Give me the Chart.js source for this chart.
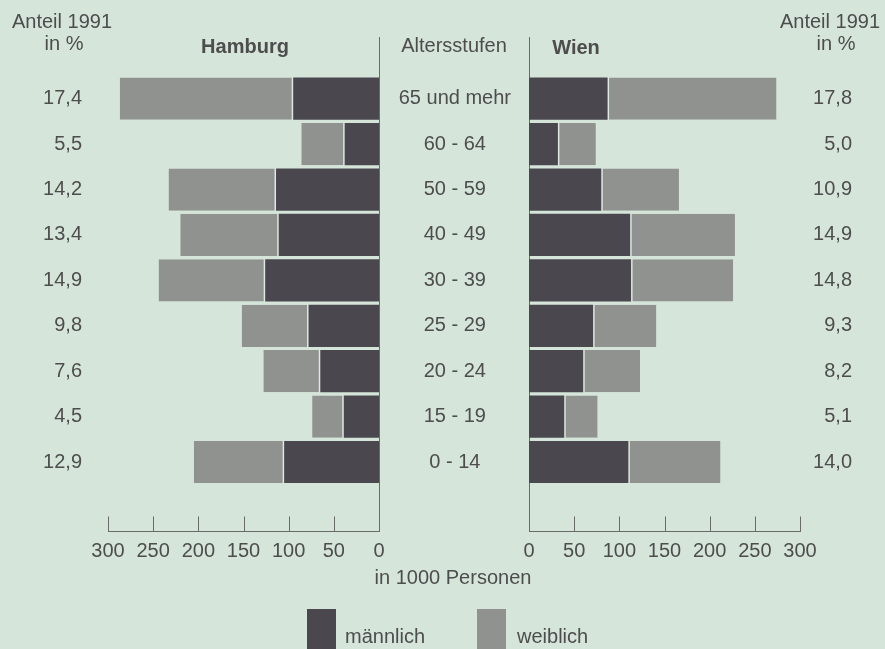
<!DOCTYPE html>
<html><head><meta charset="utf-8">
<script src="https://cdn.jsdelivr.net/npm/chart.js@4.4.1/dist/chart.umd.min.js"></script>
<style>
html,body{margin:0;padding:0;background:#d6e5da;}
#wrap{position:relative;width:885px;height:649px;overflow:hidden;font-family:"Liberation Sans",Arial,sans-serif;color:#4d4d4d;background:#d6e5da;}
canvas{position:absolute;left:0;top:0;}
.t{position:absolute;font-size:20px;line-height:20px;white-space:nowrap;}
.c{transform:translateX(-50%);text-align:center;}
.b{font-weight:bold;}
.sw{position:absolute;width:29px;height:40px;}
</style></head><body>
<div id="wrap">
<canvas id="cL" width="885" height="649"></canvas>
<canvas id="cR" width="885" height="649"></canvas>
<div class="t c" style="left:62px;top:11px">Anteil 1991</div>
<div class="t c" style="left:64px;top:33px">in %</div>
<div class="t c b" style="left:245px;top:36px">Hamburg</div>
<div class="t c" style="left:454px;top:35px">Altersstufen</div>
<div class="t c b" style="left:576px;top:37px">Wien</div>
<div class="t c" style="left:830px;top:11px">Anteil 1991</div>
<div class="t c" style="left:836px;top:33px">in %</div>
<div class="t c" style="left:453px;top:567px">in 1000 Personen</div>
<div class="sw" style="left:307px;top:609px;background:#4a484e"></div>
<div class="t" style="left:345px;top:626px">männlich</div>
<div class="sw" style="left:477px;top:609px;background:#8f928f"></div>
<div class="t" style="left:517px;top:626px">weiblich</div>
</div>
<script>
// ---- data ----
const ageGroups = ["65 und mehr","60 - 64","50 - 59","40 - 49","30 - 39","25 - 29","20 - 24","15 - 19","0 - 14"];
const hamburgMale   = [95, 38, 114, 111, 126, 78, 65, 39, 105];
const hamburgFemale = [192, 48, 119, 109, 118, 74, 63, 35, 100];
const wienMale      = [87, 32, 80, 112, 113, 71, 60, 39, 110];
const wienFemale    = [187, 42, 86, 116, 113, 70, 63, 37, 102];
const hamburgShare  = ["17,4","5,5","14,2","13,4","14,9","9,8","7,6","4,5","12,9"];
const wienShare     = ["17,8","5,0","10,9","14,9","14,8","9,3","8,2","5,1","14,0"];
const axisTicks     = [0, 50, 100, 150, 200, 250, 300];

const MALE = '#4a484e', FEMALE = '#8f928f', SEP = '#dfe9e2', INK = '#4d4d4d', LINE = '#6a6a6a';
Chart.defaults.font.family = "'Liberation Sans', Arial, sans-serif";
Chart.defaults.font.size = 20;
Chart.defaults.color = INK;

const framePlugin = {
  id: 'frame',
  beforeDatasetsDraw(chart) {
    const {ctx, chartArea, scales} = chart;
    const x = scales.x;
    const x0 = Math.round(x.getPixelForValue(0)) + 0.5;
    const axisY = Math.round(chartArea.bottom + 46) + 0.5;
    ctx.save();
    ctx.strokeStyle = LINE; ctx.lineWidth = 1;
    ctx.beginPath();
    ctx.moveTo(x0, chartArea.top - 39);
    ctx.lineTo(x0, axisY);
    ctx.moveTo(Math.min(x.left, x.right), axisY);
    ctx.lineTo(Math.max(x.left, x.right) + 1, axisY);
    x.ticks.forEach(t => {
      if (t.value === 0) return;
      const px = Math.round(x.getPixelForValue(t.value)) + 0.5;
      ctx.moveTo(px, axisY);
      ctx.lineTo(px, axisY - 15);
    });
    ctx.stroke();
    ctx.restore();
  }
};

function xScale(reverse) {
  return {
    type: 'linear', stacked: true, reverse: reverse, min: 0, max: 300,
    afterBuildTicks: s => { s.ticks = axisTicks.map(v => ({value: v})); },
    grid: {display: false, drawTicks: false},
    border: {display: false},
    ticks: {padding: 55, font: {size: 20}, color: INK, maxRotation: 0, autoSkip: false},
    afterFit: s => { s.height = 80; }
  };
}

function makeChart(id, male, female, reverse, padding, yScales) {
  return new Chart(document.getElementById(id), {
    type: 'bar',
    data: {
      labels: ageGroups,
      datasets: [
        {label: 'männlich', data: male, backgroundColor: MALE, borderWidth: 0,
         barPercentage: 0.93, categoryPercentage: 1},
        {label: 'weiblich', data: female, backgroundColor: FEMALE, borderColor: SEP,
         borderSkipped: false,
         borderWidth: reverse ? {top: 0, bottom: 0, left: 0, right: 1.5} : {top: 0, bottom: 0, left: 1.5, right: 0},
         barPercentage: 0.93, categoryPercentage: 1}
      ]
    },
    options: {
      indexAxis: 'y',
      responsive: false,
      animation: false,
      layout: {padding: padding},
      plugins: {legend: {display: false}, tooltip: {enabled: false}},
      scales: Object.assign({x: xScale(reverse)}, yScales)
    },
    plugins: [framePlugin]
  });
}

const yBase = {
  offset: true, stacked: true,
  grid: {display: false, drawTicks: false},
  border: {display: false}
};

makeChart('cL', hamburgMale, hamburgFemale, true,
  {left: 8, right: 506, top: 76, bottom: 84.3},
  {y: Object.assign({}, yBase, {
      type: 'category', position: 'left', labels: hamburgShare,
      ticks: {padding: 26, crossAlign: 'near', autoSkip: false, color: INK},
      afterFit: s => { s.width = 100; }
  })});

makeChart('cR', wienMale, wienFemale, false,
  {left: 389, right: 33, top: 76, bottom: 84.3},
  {
    y: Object.assign({}, yBase, {
      type: 'category', position: 'left',
      ticks: {padding: 18, crossAlign: 'center', autoSkip: false, color: INK},
      afterFit: s => { s.width = 140; }
    }),
    y2: Object.assign({}, yBase, {
      type: 'category', position: 'right', labels: wienShare, stacked: false,
      ticks: {padding: 0, crossAlign: 'far', autoSkip: false, color: INK},
      afterFit: s => { s.width = 52; }
    })
  });
</script>
</body></html>
